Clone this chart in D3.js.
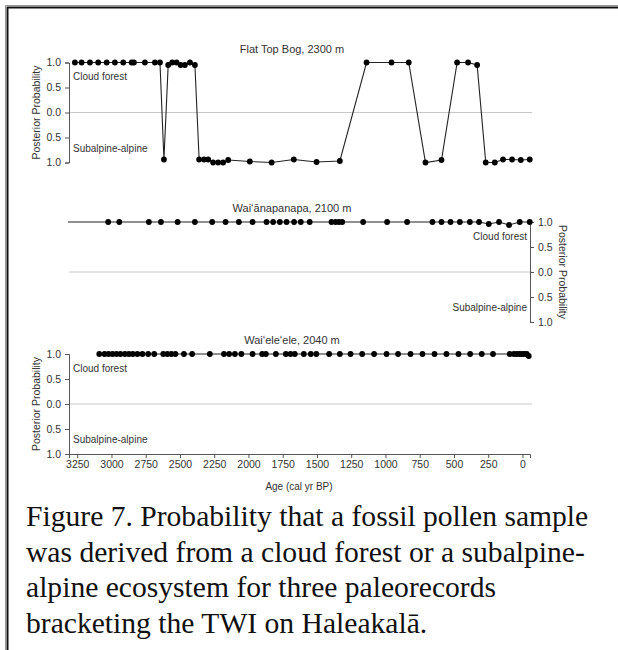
<!DOCTYPE html>
<html>
<head>
<meta charset="utf-8">
<script src="https://cdn.jsdelivr.net/npm/d3@7"></script>
<style>
  body { margin: 0; background: #fff; }
  svg { display: block; font-family: Arial, "Liberation Sans", sans-serif; }
</style>
</head>
<body>
<svg id="chart" width="618" height="650"></svg>
<script>
// ages in cal yr BP, signed posterior probability (+ cloud forest, - subalpine-alpine)
const flatTopAge = [3267, 3218, 3157, 3097, 3035, 2975, 2914, 2853, 2836, 2756, 2683, 2646,
  2617, 2586, 2557, 2525, 2495, 2464, 2427, 2391, 2360, 2325, 2294, 2258, 2221, 2185, 2148,
  1990, 1831, 1669, 1503, 1333, 1138, 956, 830, 708, 591, 477, 397, 331, 268, 202, 142, 76, 12, -53];
const flatTopProb = [1, 1, 1, 1, 1, 1, 1, 1, 1, 1, 1, 1,
  -0.94, 0.95, 1, 1, 0.95, 0.95, 1, 0.95, -0.94, -0.94, -0.94, -1, -1, -1, -0.95,
  -0.98, -1, -0.94, -0.99, -0.97, 1, 1, 1, -1, -0.95, 1, 1, 0.95, -1, -1, -0.94, -0.94, -0.95, -0.94];

const waianaAge = [3024, 2943, 2727, 2639, 2517, 2391, 2265, 2167, 2070, 1970, 1868, 1820, 1771,
  1722, 1667, 1618, 1553, 1394, 1364, 1340, 1316, 1163, 988, 842, 657, 591, 525, 457, 384, 317,
  246, 171, 98, 20, -53];
const waianaProb = [1, 1, 1, 1, 1, 1, 1, 1, 1, 1, 1, 1, 1,
  1, 1, 1, 1, 1, 1, 1, 1, 1, 1, 1, 1, 1, 1, 1, 1, 1,
  0.96, 1, 0.94, 1, 1];

const waieleAge = [3089, 3051, 3022, 2993, 2964, 2935, 2902, 2873, 2844, 2811, 2774, 2732, 2688,
  2622, 2592, 2563, 2533, 2471, 2411, 2282, 2179, 2141, 2099, 2052, 1970, 1900, 1873, 1800, 1727,
  1693, 1662, 1596, 1545, 1505, 1411, 1333, 1255, 1170, 1083, 992, 908, 817, 730, 642, 555, 467,
  382, 297, 215, 93, 63, 42, 23, 5, -13, -31, -46];
const waieleProb = [1, 1, 1, 1, 1, 1, 1, 1, 1, 1, 1, 1, 1,
  1, 1, 1, 1, 1, 1, 1, 1, 1, 1, 1, 1, 1, 1, 1, 1,
  1, 1, 1, 1, 1, 1, 1, 1, 1, 1, 1, 1, 1, 1, 1, 1, 1,
  1, 1, 1, 1, 1, 1, 1, 1, 1, 1, 0.96];

const siteNames = ["Flat Top Bog, 2300 m", "Wai\u02bb\u0101napanapa, 2100 m", "Wai\u02bbele\u02bbele, 2040 m"];
const probTicks = [1, 0.5, 0, -0.5, -1];
const ageTicks = [3250, 3000, 2750, 2500, 2250, 2000, 1750, 1500, 1250, 1000, 750, 500, 250, 0];
const captionLines = [
  "Figure 7. Probability that a fossil pollen sample",
  "was derived from a cloud forest or a subalpine-",
  "alpine ecosystem for three paleorecords",
  "bracketing the TWI on Haleakal\u0101."
];

const svg = d3.select("#chart");

// outer frame
svg.append("rect").attr("x", 5.5).attr("y", 5.5).attr("width", 700).attr("height", 700)
  .attr("fill", "none").attr("stroke", "#999").attr("stroke-width", 1);
svg.append("rect").attr("x", 7.5).attr("y", 7.5).attr("width", 700).attr("height", 700)
  .attr("fill", "none").attr("stroke", "#111").attr("stroke-width", 2);

const x = d3.scaleLinear().domain([3310, -55]).range([69, 530]);

const panels = [
  { name: siteNames[0], age: flatTopAge, prob: flatTopProb, top: 62.5, side: "left" },
  { name: siteNames[1], age: waianaAge, prob: waianaProb, top: 222, side: "right", lead: true },
  { name: siteNames[2], age: waieleAge, prob: waieleProb, top: 354, side: "left" }
];
const panelH = 100;

panels.forEach((p) => {
  const y = d3.scaleLinear().domain([-1, 1]).range([p.top + panelH, p.top]);
  const g = svg.append("g");
  const pts = p.age.map((a, i) => ({ age: a, prob: p.prob[i] }));

  // zero gridline
  g.append("line")
    .attr("x1", x.range()[0]).attr("x2", x.range()[1] + 2)
    .attr("y1", y(0)).attr("y2", y(0))
    .attr("stroke", "#c8c8c8").attr("stroke-width", 1);

  // y axis
  const axis = (p.side === "left" ? d3.axisLeft(y) : d3.axisRight(y))
    .tickValues(probTicks)
    .tickFormat((d) => Math.abs(d).toFixed(1))
    .tickSize(4)
    .tickPadding(4);
  const ax = g.append("g")
    .attr("transform", `translate(${p.side === "left" ? x.range()[0] : x.range()[1]},0)`)
    .call(axis);
  ax.select(".domain").attr("stroke", "#555");
  ax.selectAll(".tick line").attr("stroke", "#555");
  ax.selectAll(".tick text").attr("fill", "#333").style("font-size", "10.5px");

  // axis title
  const tx = p.side === "left" ? 36 : 563;
  g.append("text")
    .attr("transform", `translate(${tx},${y(0)}) rotate(${p.side === "left" ? -90 : 90})`)
    .attr("text-anchor", "middle")
    .attr("dy", "0.35em")
    .attr("fill", "#333")
    .style("font-size", "10.5px")
    .text("Posterior Probability");

  // title
  g.append("text")
    .attr("x", 292).attr("y", p.top - 10)
    .attr("text-anchor", "middle")
    .attr("fill", "#333")
    .style("font-size", "11px")
    .text(p.name);

  // class labels
  const lx = p.side === "left" ? x.range()[0] + 4 : x.range()[1] - 3;
  const anchor = p.side === "left" ? "start" : "end";
  g.append("text").attr("x", lx).attr("y", p.top + 17.5).attr("text-anchor", anchor)
    .attr("fill", "#333").style("font-size", "10px").text("Cloud forest");
  g.append("text").attr("x", lx).attr("y", p.top + 89).attr("text-anchor", anchor)
    .attr("fill", "#333").style("font-size", "10px").text("Subalpine-alpine");

  // lead-in line at 1.0 for the middle record
  if (p.lead) {
    g.append("line")
      .attr("x1", x.range()[0] - 1).attr("x2", x(pts[0].age))
      .attr("y1", y(1)).attr("y2", y(1))
      .attr("stroke", "#222").attr("stroke-width", 1.2);
  }

  const line = d3.line().x((d) => x(d.age)).y((d) => y(d.prob));
  g.append("path")
    .datum(pts)
    .attr("d", line)
    .attr("fill", "none")
    .attr("stroke", "#222")
    .attr("stroke-width", 1.1);

  g.selectAll("circle")
    .data(pts)
    .enter()
    .append("circle")
    .attr("cx", (d) => x(d.age))
    .attr("cy", (d) => y(d.prob))
    .attr("r", 2.9)
    .attr("fill", "#000");

  // x axis on bottom panel only
  if (p === panels[2]) {
    const xa = g.append("g")
      .attr("transform", `translate(0,${p.top + panelH})`)
      .call(d3.axisBottom(x).tickValues(ageTicks).tickFormat(d3.format("d")).tickSize(4).tickPadding(3));
    xa.select(".domain").attr("stroke", "#555");
    xa.selectAll(".tick line").attr("stroke", "#555");
    xa.selectAll(".tick text").attr("fill", "#333").style("font-size", "10.5px");
    g.append("text")
      .attr("x", 299).attr("y", 490)
      .attr("text-anchor", "middle")
      .attr("fill", "#333")
      .style("font-size", "10px")
      .text("Age (cal yr BP)");
  }
});

// caption
svg.append("g")
  .selectAll("text")
  .data(captionLines)
  .enter()
  .append("text")
  .attr("x", 26)
  .attr("y", (d, i) => 526 + i * 35.5)
  .attr("fill", "#111")
  .style("font-family", "'Liberation Serif', 'Times New Roman', serif")
  .style("font-size", "29.6px")
  .text((d) => d);
</script>
</body>
</html>
